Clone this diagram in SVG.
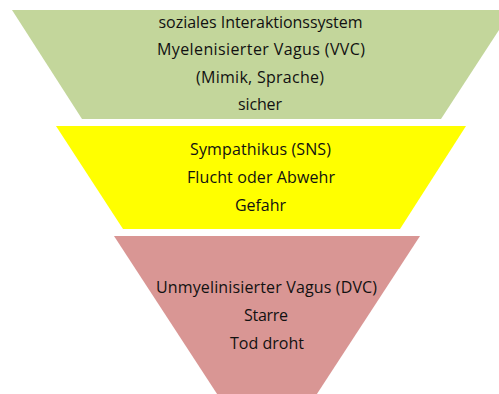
<svg xmlns="http://www.w3.org/2000/svg" width="499" height="394" viewBox="0 0 499 394">
  <style>
    .lbl { font-family: "Open Sans", "Liberation Sans", sans-serif; font-size: 16px; fill: #111111; text-anchor: middle; }
    .green { fill: #c3d69b; }
    .yellow { fill: #ffff00; }
    .pink { fill: #d99694; }
  </style>
  <rect width="499" height="394" fill="#ffffff"/>
  <g id="social">
    <polygon class="green" points="12,10 512,10 441,119 82,119"/>
    <text class="lbl" x="260.5" y="27.5" textLength="204">soziales Interaktionssystem</text>
    <text class="lbl" x="261" y="55" textLength="208">Myelenisierter Vagus (VVC)</text>
    <text class="lbl" x="260" y="82.5" textLength="128">(Mimik, Sprache)</text>
    <text class="lbl" x="260" y="110" textLength="44">sicher</text>
  </g>
  <g id="sympathetic">
    <polygon class="yellow" points="56,126 466,126 400,229 123,229"/>
    <text class="lbl" x="260.5" y="154.5" textLength="141">Sympathikus (SNS)</text>
    <text class="lbl" x="261" y="183" textLength="148">Flucht oder Abwehr</text>
    <text class="lbl" x="260.5" y="211" textLength="51">Gefahr</text>
  </g>
  <g id="dorsal">
    <polygon class="pink" points="114,236 420,236 313,400 221,400"/>
    <text class="lbl" x="266.5" y="292.5" textLength="221">Unmyelinisierter Vagus (DVC)</text>
    <text class="lbl" x="266" y="320.5" textLength="44">Starre</text>
    <text class="lbl" x="267" y="349" textLength="74">Tod droht</text>
  </g>
  <g id="connectors"/>
</svg>
